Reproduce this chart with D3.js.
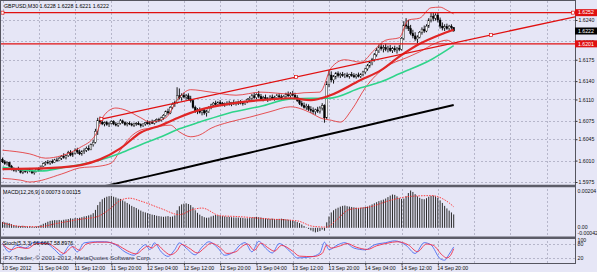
<!DOCTYPE html>
<html>
<head>
<meta charset="utf-8">
<script src="https://cdn.jsdelivr.net/npm/d3@7/dist/d3.min.js"></script>
<style>
  body { margin: 0; background: #e6e6f6; }
  svg { display: block; font-family: "Liberation Sans", Arial, sans-serif; }
  .axis path { display: none; }
  .axis line { stroke: #333; }
  .axis text { fill: #111; font-size: 5.2px; font-family: "Liberation Sans", Arial, sans-serif; }
</style>
</head>
<body>
<div id="chart"></div>
<script>
/*
  GBPUSD M30 - MT4 style chart with MACD and Stochastic
  prices are kept in pips above 1.6000
*/

var chartTitle = "GBPUSD,M30 1.6228 1.6228 1.6221 1.6222";
var macdTitle = "MACD(12,26,9) 0.00073 0.00115";
var stochTitle = "Stoch(5,3,3) 66.6667 58.8976";
var copyright = "IFX Trader, \u00a9 2001-2012, MetaQuotes Software Corp.";

var timeBars = [0, 16, 32, 48, 64, 80, 96, 112, 128, 144, 160, 176, 192];
var timeLabels = ["10 Sep 2012", "11 Sep 04:00", "11 Sep 12:00", "11 Sep 20:00", "12 Sep 04:00",
  "12 Sep 12:00", "12 Sep 20:00", "13 Sep 04:00", "13 Sep 12:00", "13 Sep 20:00",
  "14 Sep 04:00", "14 Sep 12:00", "14 Sep 20:00"];
var priceTicks = [1.5975, 1.6010, 1.6045, 1.6075, 1.6110, 1.6140, 1.6175, 1.6205, 1.6240];
var macdTicks = [0.00204, 0, -0.00042];
var macdTickLabels = ["0.00204", "0.00", "-0.00042"];
var stochTicks = [100, 80, 20];

// candles (pips above 1.6000)
var candleO = [12,8,5,7,1,-4,-6,-3,-5,-9, -7,-8,-5,-7,-10,-8,-4,-6,1,5, 7,6,9,7,11,10,14,17,15,18,
  23,19,22,27,24,21,25,27,30,28, 36,40,58,76,73,70,72,69,71,74, 70,68,71,75,72,69,71,70,68,70,
  71,69,67,70,72,70,73,71,75,77, 76,80,84,90,88,97,102,105,116,113, 117,114,116,111,108,97,91,93,89,92,
  88,90,97,101,104,102,105,103,101,103, 104,102,105,103,104,106,104,103,107,110, 112,116,113,118,115,111,113,110,112,114,
  111,113,116,114,112,115,118,116,119,117, 113,108,104,100,97,99,94,92,90,93, 91,96,100,80,135,150,142,147,152,149,
  151,149,150,148,151,149,147,150,148,151, 155,160,165,170,175,183,190,196,193,195, 192,194,190,193,191,194,192,210,232,230,
  226,218,214,209,212,220,225,222,230,240, 246,243,248,240,230,227,229,226,230,228];
var candleH = [15,11,9,8,3,-1,-2,0,-3,-5, -4,-3,-2,-4,-6,-2,-1,2,7,9, 11,10,12,13,15,16,19,22,20,26,
  27,24,30,31,28,27,30,33,35,38, 44,62,80,82,77,74,75,73,76,76, 73,72,78,77,74,73,74,72,72,73,
  74,71,71,73,76,75,77,76,79,80, 82,86,92,95,99,105,108,130,128,120, 121,119,120,116,110,100,96,97,94,95,
  93,99,103,106,108,107,109,106,105,107, 108,106,109,107,108,109,107,108,112,115, 119,121,120,124,119,116,118,114,117,118,
  116,119,120,118,117,121,123,122,124,121, 117,112,108,105,103,102,99,97,95,98, 99,104,102,140,158,156,150,155,156,154,
  155,153,154,152,155,153,152,154,153,157, 162,168,173,178,186,194,200,202,199,201, 198,199,196,198,196,199,212,238,243,240,
  232,224,220,215,222,228,231,233,243,253, 252,251,252,244,236,233,234,232,233,228];
var candleL = [6,3,2,-1,-6,-8,-9,-7,-11,-12, -10,-11,-9,-12,-13,-9,-8,-7,0,2, 4,3,5,6,8,9,11,13,12,16,
  17,16,20,21,19,18,21,24,26,27, 33,38,52,70,68,66,67,65,69,68, 66,65,69,70,67,66,68,66,65,67,
  68,64,65,67,69,68,70,69,72,73, 74,77,82,85,86,94,98,103,110,108, 112,110,109,105,95,88,86,87,84,85,
  82,88,94,98,100,99,101,99,98,100, 100,99,101,100,101,102,100,101,104,106, 109,111,110,112,108,107,109,106,108,110,
  108,110,111,109,109,112,114,113,115,111, 106,101,98,95,93,91,88,86,85,88, 87,92,72,78,130,138,136,143,146,145,
  147,145,146,144,147,145,144,146,145,148, 152,157,162,166,172,180,186,190,187,189, 187,188,186,188,185,189,190,207,225,222,
  215,210,206,202,210,216,219,220,227,236, 238,239,236,226,223,222,224,221,224,221];
var candleC = [8,5,7,1,-4,-6,-3,-5,-9,-7, -8,-5,-7,-10,-8,-4,-6,1,5,7, 6,9,7,11,10,14,17,15,18,23,
  19,22,27,24,21,25,27,30,28,36, 40,58,76,73,70,72,69,71,74,70, 68,71,75,72,69,71,70,68,70,71,
  69,67,70,72,70,73,71,75,77,76, 80,84,90,88,97,102,105,116,113,117, 114,116,111,108,97,91,93,89,92,88,
  90,97,101,104,102,105,103,101,103,104, 102,105,103,104,106,104,103,107,110,112, 116,113,118,115,111,113,110,112,114,111,
  113,116,114,112,115,118,116,119,117,113, 108,104,100,97,99,94,92,90,93,91, 96,100,80,135,150,142,147,152,149,151,
  149,150,148,151,149,147,150,148,151,155, 160,165,170,175,183,190,196,193,195,192, 194,190,193,191,194,192,210,232,230,226,
  218,214,209,212,220,225,222,230,240,246, 243,248,240,230,227,229,226,230,228,222];

// indicator lines: [bar, pips]
var maBlack = [[40,-36],[65,-15],[87,4],[109,23],[131,42],[153,61],[175,80],[199,101]];
var maGreen = [[0,-1],[8,-5],[17,-7],[26,-2],[34,3],[43,11],[52,22],[61,36],[70,49],[78,62],[87,73],
  [100,88],[114,99],[127,111],[136,112],[144,112],[158,129],[167,139],[175,152],[189,175],[199,198]];
var maRed = [[0,-4],[22,-2],[35,3],[43,12],[52,30],[61,56],[70,68],[78,81],[87,93],[100,103],[114,109],
  [127,112],[136,109],[144,116],[158,142],[167,158],[175,180],[184,201],[193,216],[199,224]];
var bandUpper = [[0,27],[12,21],[19,14],[26,18],[34,31],[41,52],[45,85],[50,96],[54,93],[61,80],[65,73],
  [72,80],[77,109],[83,126],[92,122],[103,117],[114,122],[127,119],[133,121],[140,122],[145,162],[151,175],
  [158,171],[164,191],[169,207],[175,211],[179,240],[184,243],[189,260],[193,261],[196,256],[199,250]];
var bandLower = [[0,-19],[8,-22],[12,-25],[26,-12],[34,-2],[43,1],[48,6],[52,27],[56,47],[61,60],[65,63],
  [74,68],[78,57],[83,49],[87,52],[92,63],[100,73],[109,81],[118,90],[127,98],[136,88],[140,80],[145,76],
  [149,73],[154,93],[160,129],[169,163],[178,178],[184,188],[191,202],[196,207],[199,201]];

// drawn objects
var hLevels = [1.6252, 1.6201];
var trendA = [43.6, 78], trendB = [215.4, 215.5];
var bidPrice = 1.6222;

// MACD histogram (x 0.00001) and signal points
var macdHist = [32,30,28,25,20,14,12,10,9,11, 8,7,9,6,5,7,10,16,22,27, 33,38,40,42,41,43,40,44,46,48,
  52,50,54,53,55,58,62,64,68,72, 80,98,124,142,156,164,170,173,175,170, 166,160,158,150,144,136,128,120,114,108,
  100,94,88,84,80,76,72,70,66,64, 62,60,62,64,60,62,68,96,118,128, 132,134,130,124,112,96,82,72,64,58,
  55,56,62,66,70,68,66,64,62,60, 60,58,57,56,56,55,54,52,52,53, 56,58,60,58,56,54,52,50,49,50,
  48,48,49,50,48,46,44,42,40,36, 32,26,18,10,2,-6,-14,-20,-25,-22, -18,-10,-16,30,62,84,96,104,110,116,
  120,122,118,116,114,112,110,108,110,112, 114,116,122,128,134,140,146,150,154,160, 168,176,182,180,172,162,158,160,172,190,
  204,196,184,172,164,158,156,162,170,174, 176,172,164,150,136,120,106,94,84,73];
var macdSignal = [[0,27],[8,8],[16,6],[24,24],[34,46],[42,62],[47,100],[52,150],[56,162],[61,146],[70,105],
  [78,72],[84,100],[88,108],[96,66],[103,62],[118,48],[130,38],[137,8],[143,4],[147,40],[153,100],[162,114],
  [171,150],[180,172],[189,176],[197,136],[199,115]];

// Stochastic %K and %D
var stochK = [[0,85],[3,45],[6,75],[10,62],[14,88],[19,85],[23,55],[26,30],[30,76],[33,45],[36,85],[41,90],
  [45,90],[50,76],[54,45],[58,30],[61,62],[63,77],[65,55],[67,85],[70,45],[73,25],[76,55],[78,85],[81,62],
  [85,32],[88,66],[91,90],[95,62],[98,30],[102,45],[105,78],[107,86],[110,45],[113,92],[116,62],[119,40],
  [122,82],[127,45],[130,18],[136,23],[140,40],[142,88],[144,55],[148,77],[151,86],[155,62],[160,54],
  [164,76],[169,86],[173,94],[178,74],[182,38],[186,86],[189,76],[193,15],[195,8],[197,35],[199,67]];
var stochD = [[0,80],[4,55],[7,65],[11,60],[15,82],[20,82],[24,58],[27,38],[31,68],[34,52],[37,80],[42,88],
  [46,88],[51,74],[55,50],[59,36],[62,58],[64,70],[66,62],[68,78],[71,52],[74,32],[77,50],[79,78],[82,64],
  [86,40],[89,62],[92,84],[96,64],[99,38],[103,46],[106,72],[108,80],[111,52],[114,84],[117,64],[120,48],
  [123,74],[128,48],[131,26],[137,24],[141,38],[143,76],[145,62],[149,72],[152,82],[156,66],[161,56],
  [165,72],[170,84],[174,90],[179,76],[183,46],[187,80],[190,74],[194,30],[196,18],[198,36],[199,59]];

var width = 597, height = 272, plotRight = 575;

var svg = d3.select("#chart").append("svg")
  .attr("width", width)
  .attr("height", height);

svg.append("rect").attr("width", width).attr("height", height).attr("fill", "#e6e6f6");

var x = d3.scaleLinear().domain([0, 252.5]).range([2.5, plotRight]);
var yPrice = d3.scaleLinear().domain([1.5975, 1.6240]).range([182, 20]);
var yMacd = d3.scaleLinear().domain([-0.00042, 0.00204]).range([235.5, 190.5]);
var yStoch = d3.scaleLinear().domain([0, 100]).range([262, 239.5]);

function price(p){ return 1.6 + p / 10000; }

var defs = svg.append("defs");
[["clipMain", 1, 184.5], ["clipMacd", 187.5, 236.5], ["clipStoch", 239, 263]].forEach(function(c){
  defs.append("clipPath").attr("id", c[0]).append("rect")
    .attr("x", 1).attr("y", c[1]).attr("width", plotRight - 1).attr("height", c[2] - c[1]);
});

//Grid
var grid = svg.append("g")
  .attr("stroke", "#b6b6ca")
  .attr("stroke-width", 1)
  .attr("stroke-dasharray", "2,2");

grid.selectAll(".vgrid")
  .data(d3.range(0, 253, 16))
  .enter().append("line")
  .attr("x1", function(d){ return Math.round(x(d)) + 0.5; })
  .attr("x2", function(d){ return Math.round(x(d)) + 0.5; })
  .attr("y1", 1).attr("y2", 263);

grid.selectAll(".hgrid")
  .data(priceTicks)
  .enter().append("line")
  .attr("x1", 1).attr("x2", plotRight)
  .attr("y1", function(d){ return Math.round(yPrice(d)) + 0.5; })
  .attr("y2", function(d){ return Math.round(yPrice(d)) + 0.5; });

grid.selectAll(".sgrid")
  .data([80, 20])
  .enter().append("line")
  .attr("x1", 1).attr("x2", plotRight)
  .attr("y1", function(d){ return Math.round(yStoch(d)) + 0.5; })
  .attr("y2", function(d){ return Math.round(yStoch(d)) + 0.5; });

//Candles
var barIdx = d3.range(candleC.length);
var main = svg.append("g").attr("clip-path", "url(#clipMain)");

main.selectAll(".wick")
  .data(barIdx)
  .enter().append("line")
  .attr("x1", function(i){ return x(i); })
  .attr("x2", function(i){ return x(i); })
  .attr("y1", function(i){ return yPrice(price(candleH[i])); })
  .attr("y2", function(i){ return yPrice(price(candleL[i])); })
  .attr("stroke", "#000")
  .attr("stroke-width", 0.9);

main.selectAll(".body")
  .data(barIdx)
  .enter().append("rect")
  .attr("x", function(i){ return x(i) - 0.9; })
  .attr("width", 1.8)
  .attr("y", function(i){ return yPrice(price(Math.max(candleO[i], candleC[i]))); })
  .attr("height", function(i){ return Math.max(0.6, Math.abs(yPrice(price(candleO[i])) - yPrice(price(candleC[i])))); })
  .attr("fill", function(i){ return candleC[i] >= candleO[i] ? "#ffffff" : "#000000"; })
  .attr("stroke", "#000")
  .attr("stroke-width", 0.4);

//Indicators on price
var priceLine = d3.line()
  .x(function(d){ return x(d[0]); })
  .y(function(d){ return yPrice(price(d[1])); })
  .curve(d3.curveMonotoneX);

[[bandUpper, "#e42a2a", 0.8], [bandLower, "#e42a2a", 0.8], [maGreen, "#2fd48a", 1.6],
 [maBlack, "#000000", 2], [maRed, "#e02626", 2.2]].forEach(function(s){
  main.append("path")
    .datum(s[0])
    .attr("d", priceLine)
    .style("fill", "none")
    .style("stroke", s[1])
    .style("stroke-width", s[2] + "px");
});

//Horizontal lines and trend line
main.selectAll(".hline")
  .data(hLevels)
  .enter().append("line")
  .attr("x1", 1).attr("x2", plotRight)
  .attr("y1", function(d){ return yPrice(d); })
  .attr("y2", function(d){ return yPrice(d); })
  .attr("stroke", "#e01010")
  .attr("stroke-width", 1.3);

var ax = x(trendA[0]), ay = yPrice(price(trendA[1])),
    bx = x(trendB[0]), by = yPrice(price(trendB[1]));
var slope = (by - ay) / (bx - ax);
main.append("line")
  .attr("x1", ax).attr("y1", ay)
  .attr("x2", plotRight).attr("y2", ay + slope * (plotRight - ax))
  .attr("stroke", "#e01010")
  .attr("stroke-width", 1.3);

var markers = [[ax, ay], [(ax + bx) / 2, (ay + by) / 2], [bx, by],
               [2.5, yPrice(hLevels[0])], [plotRight - 2, yPrice(hLevels[0])]];
main.selectAll(".marker")
  .data(markers)
  .enter().append("rect")
  .attr("x", function(d){ return d[0] - 1.5; })
  .attr("y", function(d){ return d[1] - 1.5; })
  .attr("width", 3).attr("height", 3)
  .attr("fill", "#ffffff")
  .attr("stroke", "#e01010")
  .attr("stroke-width", 0.7);

//MACD
var macdG = svg.append("g").attr("clip-path", "url(#clipMacd)");
macdG.selectAll(".hist")
  .data(barIdx)
  .enter().append("line")
  .attr("x1", function(i){ return x(i); })
  .attr("x2", function(i){ return x(i); })
  .attr("y1", yMacd(0))
  .attr("y2", function(i){ return yMacd(macdHist[i] / 100000); })
  .attr("stroke", "#2a2a2a")
  .attr("stroke-width", 1);

macdG.append("path")
  .datum(macdSignal)
  .attr("d", d3.line()
    .x(function(d){ return x(d[0]); })
    .y(function(d){ return yMacd(d[1] / 100000); })
    .curve(d3.curveMonotoneX))
  .style("fill", "none")
  .style("stroke", "#ff2a2a")
  .style("stroke-width", "0.9px")
  .style("stroke-dasharray", "1.5,1.2");

//Stochastic
var stochG = svg.append("g").attr("clip-path", "url(#clipStoch)");
var stochLine = d3.line()
  .x(function(d){ return x(d[0]); })
  .y(function(d){ return yStoch(d[1]); })
  .curve(d3.curveMonotoneX);

stochG.append("path").datum(stochK).attr("d", stochLine)
  .style("fill", "none").style("stroke", "#4b6cf2").style("stroke-width", "0.9px");
stochG.append("path").datum(stochD).attr("d", stochLine)
  .style("fill", "none").style("stroke", "#f0304c").style("stroke-width", "0.9px");

//Panel texts
svg.append("text").attr("x", 4).attr("y", 7.6)
  .style("font-size", "5.3px").style("fill", "#000").text(chartTitle);
svg.append("text").attr("x", 3).attr("y", 194)
  .style("font-size", "5.3px").style("fill", "#000").text(macdTitle);
svg.append("text").attr("x", 3).attr("y", 244.5)
  .style("font-size", "5.3px").style("fill", "#000").text(stochTitle);
svg.append("text").attr("x", 3).attr("y", 259.5)
  .style("font-size", "6.2px").style("fill", "#34344c").text(copyright);

//Frame and separators
svg.append("rect")
  .attr("x", 0.5).attr("y", 0.5)
  .attr("width", plotRight).attr("height", 263)
  .attr("fill", "none").attr("stroke", "#55555f").attr("stroke-width", 1);
[186, 237.8].forEach(function(yy){
  svg.append("line")
    .attr("x1", 0).attr("x2", plotRight + 0.5)
    .attr("y1", yy).attr("y2", yy)
    .attr("stroke", "#5c5c68").attr("stroke-width", 2.5);
});

//Price axis
svg.append("g")
  .attr("class", "axis")
  .attr("transform", "translate(" + (plotRight + 0.5) + ",0)")
  .call(d3.axisRight(yPrice).tickValues(priceTicks).tickSize(2).tickPadding(1).tickFormat(d3.format(".4f")));

//MACD axis
var macdAxis = svg.append("g")
  .attr("class", "axis")
  .attr("transform", "translate(" + (plotRight + 0.5) + ",0)")
  .call(d3.axisRight(yMacd).tickValues(macdTicks).tickSize(0).tickPadding(2)
    .tickFormat(function(d, i){ return macdTickLabels[i]; }));
macdAxis.selectAll("text").attr("dy", function(d){
  return d < 0 ? "-0.25em" : (d === 0 ? "0.1em" : "0.32em");
});

//Stoch axis
svg.append("g")
  .attr("class", "axis")
  .attr("transform", "translate(" + (plotRight + 0.5) + ",0)")
  .call(d3.axisRight(yStoch).tickValues(stochTicks).tickSize(0).tickPadding(2));

//Time axis
var timeAxis = svg.append("g")
  .attr("class", "axis")
  .attr("transform", "translate(0,263.5)")
  .call(d3.axisBottom(x).tickValues(timeBars).tickSize(2).tickPadding(1)
    .tickFormat(function(d, i){ return timeLabels[i]; }));
timeAxis.selectAll("text").style("text-anchor", "start").attr("x", -1);

//Price boxes on the axis
var boxes = [[hLevels[0], "#e01010"], [bidPrice, "#000000"], [hLevels[1], "#e01010"]];
var boxG = svg.selectAll(".pbox")
  .data(boxes)
  .enter().append("g")
  .attr("transform", function(d){ return "translate(" + plotRight + "," + yPrice(d[0]) + ")"; });
boxG.append("rect")
  .attr("x", 0).attr("y", -3.5)
  .attr("width", width - plotRight).attr("height", 7)
  .attr("fill", function(d){ return d[1]; });
boxG.append("text")
  .attr("x", 3).attr("dy", "0.34em")
  .style("font-size", "5.2px").style("fill", "#ffffff")
  .text(function(d){ return d3.format(".4f")(d[0]); });
</script>
</body>
</html>
